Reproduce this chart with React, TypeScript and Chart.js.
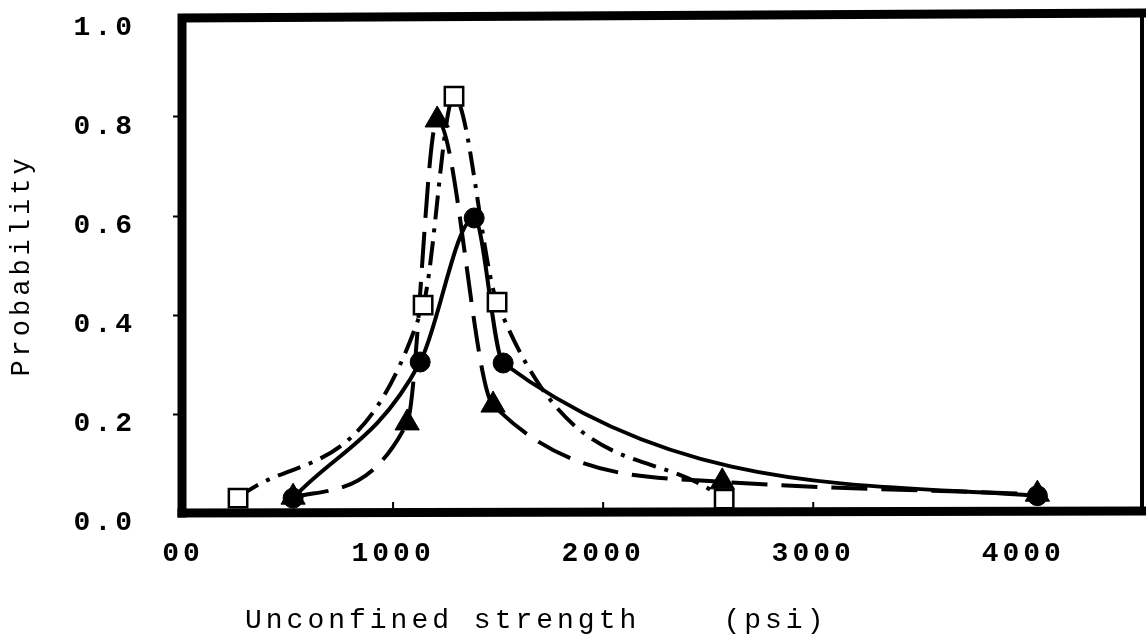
import React, { useEffect, useRef } from "react";
import { Chart, registerables } from "chart.js";

Chart.register(...registerables);

// Open squares, dash-dot curve
const squareX = [262, 1143, 1290, 1495, 2576];
const squareY = [0.03, 0.42, 0.842, 0.426, 0.028];
// Filled triangles, dashed curve
const triangleX = [524, 1067, 1210, 1476, 2567, 4067];
const triangleY = [0.032, 0.182, 0.794, 0.218, 0.063, 0.038];
// Filled circles, solid curve
const circleX = [524, 1129, 1386, 1524, 4067];
const circleY = [0.03, 0.305, 0.596, 0.303, 0.035];

const xTicks = [0, 1000, 2000, 3000, 4000];
const xTickLabels = ["00", "1000", "2000", "3000", "4000"];
const yTicks = [0, 0.2, 0.4, 0.6, 0.8, 1.0];
const yTickLabels = ["0.0", "0.2", "0.4", "0.6", "0.8", "1.0"];
const xTitle = "Unconfined strength    (psi)";
const yTitle = "Probability";

const FONT = "'Liberation Mono', 'DejaVu Sans Mono', monospace";

const toPts = (xs: number[], ys: number[]) => xs.map((x, i) => ({ x, y: ys[i] }));

export default function App() {
  const ref = useRef<HTMLCanvasElement | null>(null);

  useEffect(() => {
    if (!ref.current) return;

    const spacingPlugin = {
      id: "spacing",
      beforeLayout(chart: any) {
        chart.ctx.letterSpacing = "4px";
      },
      beforeDraw(chart: any) {
        chart.ctx.letterSpacing = "4px";
      },
    };

    const framePlugin = {
      id: "frame",
      beforeDatasetsDraw(chart: any) {
        const { ctx, chartArea } = chart;
        const { left, right, top, bottom } = chartArea;
        ctx.save();
        ctx.strokeStyle = "#000";
        ctx.lineCap = "square";
        ctx.lineWidth = 9;
        ctx.beginPath();
        ctx.moveTo(left - 1, bottom);
        ctx.lineTo(left - 1, top);
        ctx.lineTo(right, top - 5);
        ctx.stroke();
        ctx.beginPath();
        ctx.moveTo(left - 1, bottom);
        ctx.lineTo(right, bottom - 2);
        ctx.stroke();
        ctx.lineWidth = 4;
        ctx.beginPath();
        ctx.moveTo(right, top - 5);
        ctx.lineTo(right, bottom - 2);
        ctx.stroke();
        const xs = chart.scales.x;
        ctx.lineWidth = 2;
        ctx.lineCap = "butt";
        [1000, 2000, 3000].forEach((v) => {
          const px = xs.getPixelForValue(v);
          ctx.beginPath();
          ctx.moveTo(px, bottom - 4);
          ctx.lineTo(px, bottom - 11);
          ctx.stroke();
        });
        ctx.restore();
      },
      afterDraw(chart: any) {
        const { ctx, chartArea } = chart;
        ctx.save();
        ctx.letterSpacing = "4px";
        ctx.fillStyle = "#000";
        ctx.font = `normal 28px ${FONT}`;
        ctx.textAlign = "left";
        ctx.textBaseline = "middle";
        ctx.fillText(xTitle, chartArea.left + 62, 621);
        ctx.restore();
      },
    };

    const chart = new Chart(ref.current, {
      type: "line",
      data: {
        datasets: [
          {
            label: "squares",
            data: toPts(squareX, squareY),
            borderColor: "#000",
            borderWidth: 4,
            borderDash: [24, 9, 4, 9],
            pointStyle: "rect",
            pointRadius: 13,
            pointBackgroundColor: "#fff",
            pointBorderColor: "#000",
            pointBorderWidth: 2.5,
            cubicInterpolationMode: "monotone",
            fill: false,
            order: 0,
          },
          {
            label: "triangles",
            data: toPts(triangleX, triangleY),
            borderColor: "#000",
            borderWidth: 4,
            borderDash: [36, 14],
            pointStyle: "triangle",
            pointRadius: 14,
            pointBackgroundColor: "#000",
            pointBorderColor: "#000",
            pointBorderWidth: 1,
            cubicInterpolationMode: "monotone",
            fill: false,
            order: 1,
          },
          {
            label: "circles",
            data: toPts(circleX, circleY),
            borderColor: "#000",
            borderWidth: 4,
            pointStyle: "circle",
            pointRadius: 10,
            pointBackgroundColor: "#000",
            pointBorderColor: "#000",
            pointBorderWidth: 1,
            cubicInterpolationMode: "monotone",
            fill: false,
            order: 2,
          },
        ],
      },
      options: {
        responsive: false,
        animation: false,
        layout: { autoPadding: false, padding: { left: 0, right: 4, top: 18, bottom: 0 } },
        plugins: {
          legend: { display: false },
          tooltip: { enabled: false },
          title: { display: false },
        },
        scales: {
          x: {
            type: "linear",
            min: 0,
            max: 4565,
            afterBuildTicks: (s: any) => {
              s.ticks = xTicks.map((v) => ({ value: v }));
            },
            afterFit: (s: any) => {
              s.height = 128;
              s.paddingLeft = 0;
              s.paddingRight = 0;
              s.paddingTop = 0;
              s.paddingBottom = 0;
            },
            grid: { display: false, drawTicks: false },
            border: { display: false },
            ticks: {
              includeBounds: false,
              padding: 24,
              color: "#000",
              font: { family: FONT, size: 28, weight: "bold" },
              maxRotation: 0,
              autoSkip: false,
              callback: (v: any) => {
                const i = xTicks.indexOf(Number(v));
                return i >= 0 ? xTickLabels[i] : "";
              },
            },
          },
          y: {
            type: "linear",
            min: 0,
            max: 1,
            afterBuildTicks: (s: any) => {
              s.ticks = yTicks.map((v) => ({ value: v }));
            },
            afterFit: (s: any) => {
              s.width = 183;
              s.paddingLeft = 0;
              s.paddingRight = 0;
              s.paddingTop = 0;
              s.paddingBottom = 0;
            },
            grid: {
              drawOnChartArea: false,
              drawTicks: true,
              tickLength: 10,
              tickWidth: 2,
              tickColor: (c: any) =>
                c.tick && (c.tick.value === 0 || c.tick.value === 1) ? "rgba(0,0,0,0)" : "#000",
            },
            border: { display: false },
            ticks: {
              includeBounds: false,
              padding: 37,
              labelOffset: 10,
              color: "#000",
              font: { family: FONT, size: 28, weight: "bold" },
              autoSkip: false,
              callback: (v: any) => {
                const i = yTicks.findIndex((t) => Math.abs(t - Number(v)) < 1e-6);
                return i >= 0 ? yTickLabels[i] : "";
              },
            },
            title: {
              display: true,
              text: yTitle,
              color: "#000",
              font: { family: FONT, size: 27, weight: "normal" },
              padding: { top: 6, bottom: 0 },
            },
          },
        },
      },
      plugins: [spacingPlugin, framePlugin],
    } as any);

    return () => chart.destroy();
  }, []);

  return (
    <div style={{ position: "fixed", left: 0, top: 0, width: 1146, height: 641, background: "#fff" }}>
      <canvas ref={ref} width={1146} height={641} style={{ display: "block" }} />
    </div>
  );
}
